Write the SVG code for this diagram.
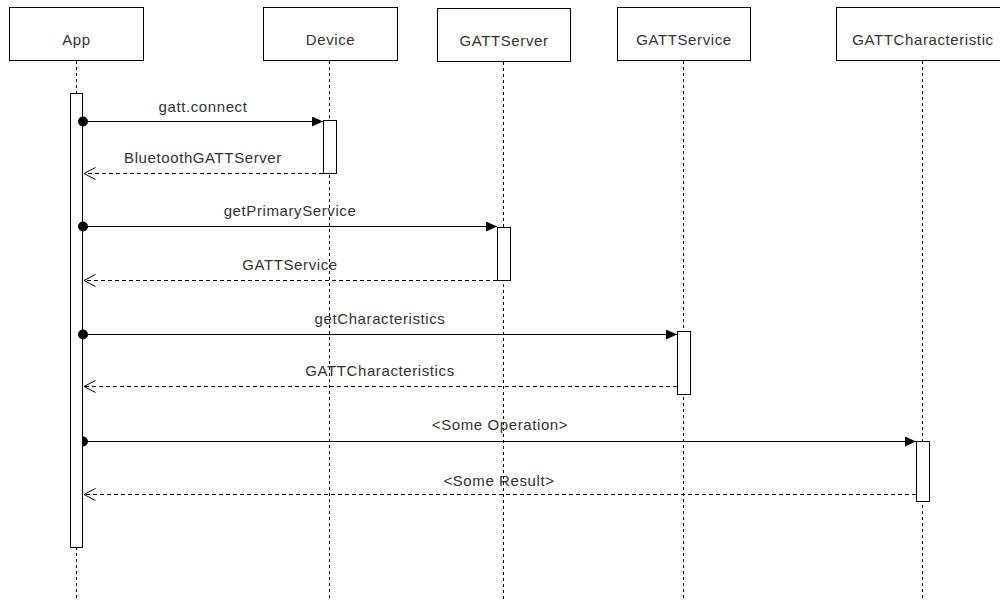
<svg xmlns="http://www.w3.org/2000/svg" width="1000" height="600" viewBox="0 0 1000 600">
<style>
.box{fill:#fff;stroke:#000;stroke-width:1}
.life{stroke:#000;stroke-width:1;stroke-dasharray:3 3;fill:none}
.act{fill:#fff;stroke:#000;stroke-width:1}
.lbl{font-family:"Liberation Sans",Arial,sans-serif;font-size:15px;letter-spacing:0.6px;fill:#333;text-anchor:middle}
.call{stroke:#000;stroke-width:1;fill:none;marker-end:url(#block)}
.ret{stroke:#000;stroke-width:1;fill:none;stroke-dasharray:4 3;marker-end:url(#open)}
.dot{fill:#000}
</style>
<defs>
<marker id="block" markerUnits="userSpaceOnUse" markerWidth="12" markerHeight="12" refX="11" refY="5" orient="auto">
<path d="M0,0 L11,5 L0,10 z" fill="#000"/>
</marker>
<marker id="open" markerUnits="userSpaceOnUse" markerWidth="14" markerHeight="14" refX="12" refY="6.5" orient="auto">
<path d="M0.5,0.5 L12,6.5 L0.5,12.5" fill="none" stroke="#000" stroke-width="1"/>
</marker>
</defs>
<rect width="1000" height="600" fill="#fff"/>
<g id="app">
<rect class="box" x="9.5" y="7.5" width="134" height="53"/>
<text class="lbl" x="76.5" y="45">App</text>
<line class="life" x1="76.5" y1="61" x2="76.5" y2="600"/>
<rect class="act" x="70.5" y="93.5" width="12" height="454"/>
</g>
<g id="device">
<rect class="box" x="263.5" y="7.5" width="134" height="53"/>
<text class="lbl" x="330.5" y="45">Device</text>
<line class="life" x1="329.5" y1="61" x2="329.5" y2="600"/>
<rect class="act" x="323.5" y="120.5" width="13" height="53"/>
</g>
<g id="gattserver">
<rect class="box" x="437.5" y="8.5" width="133" height="53"/>
<text class="lbl" x="504" y="46">GATTServer</text>
<line class="life" x1="503.5" y1="62" x2="503.5" y2="600"/>
<rect class="act" x="497.5" y="227.5" width="13" height="53"/>
</g>
<g id="gattservice">
<rect class="box" x="617.5" y="7.5" width="133" height="53"/>
<text class="lbl" x="684" y="45">GATTService</text>
<line class="life" x1="683.5" y1="61" x2="683.5" y2="600"/>
<rect class="act" x="677.5" y="331.5" width="13" height="63"/>
</g>
<g id="gattcharacteristic">
<rect class="box" x="836.5" y="7.5" width="174" height="53"/>
<text class="lbl" x="923" y="45">GATTCharacteristic</text>
<line class="life" x1="922.5" y1="61" x2="922.5" y2="600"/>
<rect class="act" x="916.5" y="441.5" width="13" height="60"/>
</g>
<g id="connectors">
<line class="call" x1="83" y1="121.5" x2="323" y2="121.5"/>
<circle class="dot" cx="83" cy="121.5" r="5"/>
<text class="lbl" x="203" y="112">gatt.connect</text>
<line class="ret" x1="323" y1="173.5" x2="84" y2="173.5"/>
<text class="lbl" x="203" y="163">BluetoothGATTServer</text>
<line class="call" x1="83" y1="226.5" x2="497" y2="226.5"/>
<circle class="dot" cx="83" cy="226.5" r="5"/>
<text class="lbl" x="290" y="216">getPrimaryService</text>
<line class="ret" x1="497" y1="280.5" x2="84" y2="280.5"/>
<text class="lbl" x="290" y="270">GATTService</text>
<line class="call" x1="83" y1="334.5" x2="677" y2="334.5"/>
<circle class="dot" cx="83" cy="334.5" r="5"/>
<text class="lbl" x="380" y="324">getCharacteristics</text>
<line class="ret" x1="677" y1="386.5" x2="84" y2="386.5"/>
<text class="lbl" x="380" y="376">GATTCharacteristics</text>
<line class="call" x1="83" y1="441.5" x2="916" y2="441.5"/>
<path class="dot" d="M83,436.5 A5,5 0 0,1 83,446.5 z"/>
<text class="lbl" x="500" y="430">&lt;Some Operation&gt;</text>
<line class="ret" x1="916" y1="494.5" x2="84" y2="494.5"/>
<text class="lbl" x="499" y="486">&lt;Some Result&gt;</text>
</g>
</svg>
